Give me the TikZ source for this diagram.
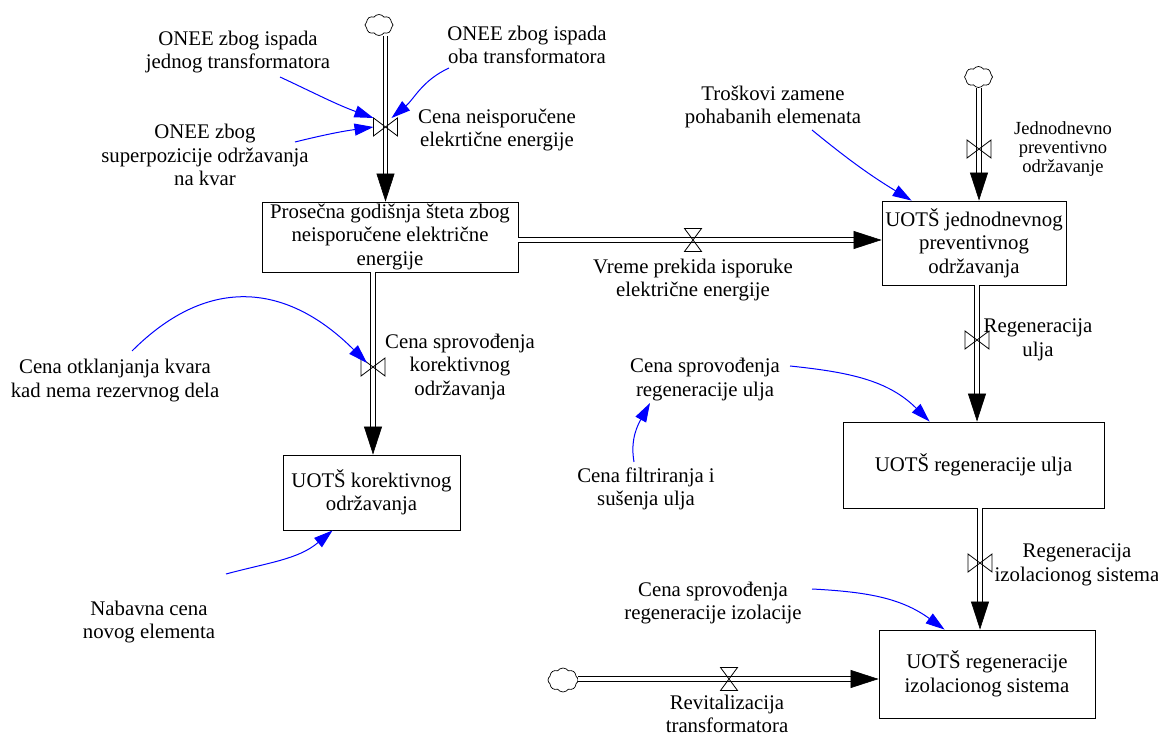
\documentclass[tikz,border=0pt]{standalone}
\usepackage{fontspec}
\setmainfont{Liberation Serif}
\usetikzlibrary{arrows.meta,shapes.symbols}

% bow-tie valve drawn on a (vertical / horizontal) pipe
\newcommand{\valveOnV}[1]{\draw[valveline] (#1.north west) -- (#1.south east) -- (#1.north east) -- (#1.south west) -- cycle;}
\newcommand{\valveOnH}[1]{\draw[valveline] (#1.north west) -- (#1.south east) -- (#1.south west) -- (#1.north east) -- cycle;}

\begin{document}
\begin{tikzpicture}[x=1pt,y=1pt,
  every node/.style={font=\fontsize{20.8}{23.5}\selectfont, align=center, inner sep=2pt},
  level/.style={draw, line width=0.85pt, inner sep=0pt},
  smalllbl/.style={font=\fontsize{18.5}{19}\selectfont},
  cloudsh/.style={cloud, cloud puffs=8, cloud puff arc=110, aspect=1.3, draw, line width=0.7pt,
                  minimum width=28pt, minimum height=21pt, inner sep=0pt},
  vv/.style={minimum width=24pt, minimum height=18pt, inner sep=0pt, outer sep=0pt},
  hv/.style={minimum width=17pt, minimum height=23pt, inner sep=0pt, outer sep=0pt},
  valveline/.style={draw=black, line width=0.8pt, line join=miter},
  pipe/.style={draw=black, line width=0.9pt, double=white, double distance=3.4pt, shorten >=24pt},
  flowtip/.style={draw=white, line width=3.4pt,
                  -{Triangle[length=28pt,width=18pt,line width=0.6pt,color=black,fill=black]}},
  link/.style={draw=blue, line width=1pt, -{Triangle[length=19pt,width=12pt]}}
]
\useasboundingbox (0,0) rectangle (1158,736);

% stocks
\node[level, minimum width=256pt, minimum height=70pt] (A) at (390,499)
  {Prosečna godišnja šteta zbog\\neisporučene električne\\energije};
\node[level, minimum width=184pt, minimum height=84pt] (B) at (974,493)
  {UOTŠ jednodnevnog\\preventivnog\\održavanja};
\node[level, minimum width=177pt, minimum height=75pt] (C) at (371.5,243.5)
  {UOTŠ korektivnog\\održavanja};
\node[level, minimum width=261pt, minimum height=86pt] (D) at (973.5,271)
  {UOTŠ regeneracije ulja};
\node[level, minimum width=216pt, minimum height=88pt] (E) at (987,62)
  {UOTŠ regeneracije\\izolacionog sistema};

% sources
\node[cloudsh] (cA) at (379,711) {};
\node[cloudsh] (cB) at (978.5,659) {};
\node[cloudsh, minimum width=30pt, minimum height=24pt] (cE) at (563,56) {};

% valve positions
\node[vv] (v1) at (385.5,609) {};
\node[vv] (v2) at (373,369) {};
\node[hv] (v3) at (693,496) {};
\node[vv] (v4) at (979,587) {};
\node[vv] (v5) at (977,396) {};
\node[vv] (v6) at (980,173) {};
\node[hv] (v7) at (729,57) {};

% pipes
\draw[pipe] (cA.south -| v1) -- (A.north -| v1);
\draw[pipe] (A.south -| v2) -- (C.north -| v2);
\draw[pipe] (v3 -| A.east) -- (v3 -| B.west);
\draw[pipe] (cB.south -| v4) -- (B.north -| v4);
\draw[pipe] (B.south -| v5) -- (D.north -| v5);
\draw[pipe] (D.south -| v6) -- (E.north -| v6);
\draw[pipe] (cE.east |- v7) -- (E.west |- v7);

% flow heads
\draw[flowtip] (cA.south -| v1) -- (A.north -| v1);
\draw[flowtip] (A.south -| v2) -- (C.north -| v2);
\draw[flowtip] (v3 -| A.east) -- (v3 -| B.west);
\draw[flowtip] (cB.south -| v4) -- (B.north -| v4);
\draw[flowtip] (B.south -| v5) -- (D.north -| v5);
\draw[flowtip] (D.south -| v6) -- (E.north -| v6);
\draw[flowtip] (cE.east |- v7) -- (E.west |- v7);

% valves
\valveOnV{v1}
\valveOnV{v2}
\valveOnH{v3}
\valveOnV{v4}
\valveOnV{v5}
\valveOnV{v6}
\valveOnH{v7}

% auxiliaries and rate names
\node (L1) at (238,684) {ONEE zbog ispada\\jednog transformatora};
\node (L2) at (527,691) {ONEE zbog ispada\\oba transformatora};
\node (L3) at (205,581) {ONEE zbog\\superpozicije održavanja\\na kvar};
\node (Lc) at (497,606) {Cena neisporučene\\elekrtične energije};
\node (T) at (773,629) {Troškovi zamene\\pohabanih elemenata};
\node[smalllbl] (J) at (1063,587) {Jednodnevno\\preventivno\\održavanje};
\node (V) at (693,456) {Vreme prekida isporuke\\električne energije};
\node (K) at (115,355.5) {Cena otklanjanja kvara\\kad nema rezervnog dela};
\node (S) at (460,369) {Cena sprovođenja\\korektivnog\\održavanja};
\node (RU) at (1038,396) {Regeneracija\\ulja};
\node (R) at (705,356.5) {Cena sprovođenja\\regeneracije ulja};
\node (F) at (646,247) {Cena filtriranja i\\sušenja ulja};
\node (N) at (149,114) {Nabavna cena\\novog elementa};
\node (RI) at (1077,171) {Regeneracija\\izolacionog sistema};
\node (I) at (713,133) {Cena sprovođenja\\regeneracije izolacije};
\node (RT) at (727,22) {Revitalizacija\\transformatora};

% information links
\draw[link] ([shift={(42pt,-25pt)}]L1.center) to[out=-25,in=160] (v1.north west);
\draw[link] ([shift={(90pt,13pt)}]L3.center) to[bend left=3] (v1.west);
\draw[link] ([shift={(-78pt,-23pt)}]L2.center) to[out=-155,in=40] ([xshift=-6pt]v1.north east);
\draw[link] ([shift={(39pt,-23pt)}]T.center) to[bend right=4] ([xshift=30pt]B.north west);
\draw[link] ([shift={(17pt,29.5pt)}]K.center) to[out=45,in=135,looseness=1.2] ([shift={(-6pt,4pt)}]v2.center);
\draw[link] ([shift={(85pt,13.5pt)}]R.center) to[out=-6,in=135] ([xshift=87pt]D.north west);
\draw[link] ([shift={(-12pt,27pt)}]F.center) to[out=100,in=-119] ([shift={(-55pt,-23.5pt)}]R.center);
\draw[link] ([shift={(77pt,48pt)}]N.center) to[out=15,in=-140] ([xshift=50pt]C.south west);
\draw[link] ([shift={(99pt,14pt)}]I.center) to[out=-3,in=144] ([xshift=66pt]E.north west);
\end{tikzpicture}
\end{document}
